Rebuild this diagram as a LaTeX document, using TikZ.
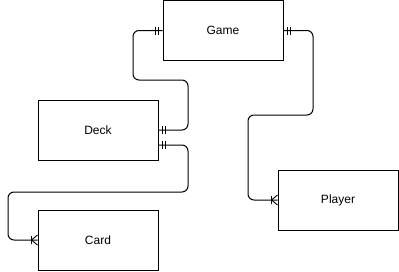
\documentclass[tikz,border=0pt]{standalone}
\usepackage{fontspec}
\setmainfont{Liberation Sans}
\usetikzlibrary{calc}
\begin{document}
\begin{tikzpicture}[x=1pt,y=-1pt,line width=1pt,
  entity/.style={draw=black,fill=white,minimum width=120pt,minimum height=60pt,
    inner sep=0pt,font=\fontsize{12}{14}\selectfont},
  rel/.style={draw=black,rounded corners=6pt},
  % two bars: mandatory one (origin at the box edge, line arriving from -x)
  mandone/.pic={\draw[line width=0.9pt] (-4,-4)--(-4,4) (-7,-4)--(-7,4);},
  % bar plus crow's foot: one to many
  onemany/.pic={\draw[line width=0.9pt] (-6,-4)--(-6,4) (0,-5)--(-6,0)--(0,5);}]
\useasboundingbox (0,0) rectangle (399,271);

\node[entity] (game)   at (223,30.5)  {Game};
\node[entity] (deck)   at (98,130)  {Deck};
\node[entity] (card)   at (98,240)  {Card};
\node[entity] (player) at (338,200) {Player};

% Game -- Deck
\draw[rel] (game.west) -| (133,55) |- (188,80) |- (deck.east);
\pic at (game.west) {mandone};
\pic[rotate=180] at (deck.east) {mandone};

% Deck -- Card
\coordinate (deckb) at ($(deck.east)+(0,15)$);
\draw[rel] (deckb) -| (188,170) |- (8,192) |- (card.west);
\pic[rotate=180] at (deckb) {mandone};
\pic at (card.west) {onemany};

% Game -- Player
\draw[rel] (game.east) -| (313,70) |- (248,115) |- (player.west);
\pic[rotate=180] at (game.east) {mandone};
\pic at (player.west) {onemany};
\end{tikzpicture}
\end{document}
